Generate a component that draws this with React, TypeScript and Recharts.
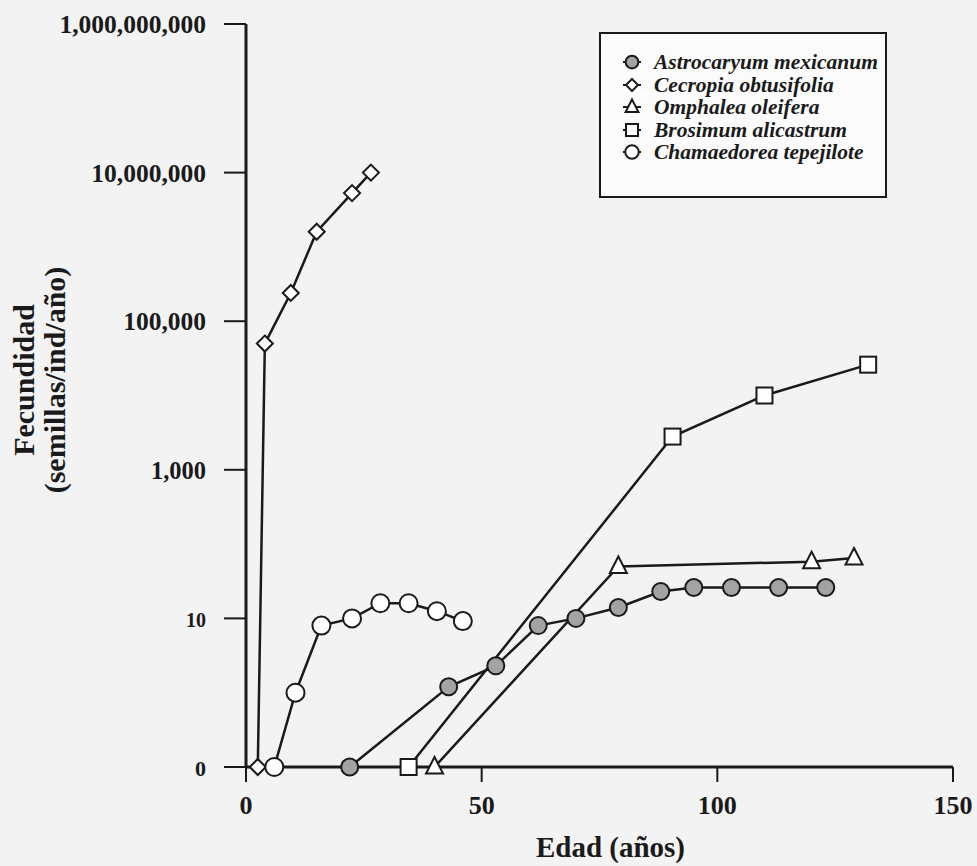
import React from 'react';
import { LineChart, Line, XAxis, YAxis } from 'recharts';

// edad (años) y fecundidad (semillas/ind/año)
const astrocaryumAge = [22, 43, 53, 62, 70, 79, 88, 95, 103, 113, 123];
const astrocaryumFec = [0, 1.2, 2.3, 8, 10, 14, 23, 26, 26, 26, 26];

const cecropiaAge = [2.5, 4, 9.5, 15, 22.5, 26.5];
const cecropiaFec = [0, 50000, 240000, 1600000, 5300000, 10000000];

const omphaleaAge = [40, 79, 120, 129];
const omphaleaFec = [0, 50, 58, 65];

const brosimumAge = [34.5, 90.5, 110, 132];
const brosimumFec = [0, 2800, 10000, 26000];

const chamaedoreaAge = [6, 10.5, 16, 22.5, 28.5, 34.5, 40.5, 46];
const chamaedoreaFec = [0, 1, 8, 10, 16, 16, 12.5, 9.2];

const yTickValues = [0, 10, 1000, 100000, 10000000, 1000000000];
const xTicks = [0, 50, 100, 150];

// el eje es logarítmico y el 0 se dibuja una década por debajo de 1
const toLog = (v: number) => (v <= 0 ? -1 : Math.log10(v));
const fromLog = (t: number) => (t < 0 ? 0 : Math.round(Math.pow(10, t)));

const build = (ages: number[], fec: number[]) =>
  ages.map((a, i) => ({ x: a, y: toLog(fec[i]) }));

const INK = '#1a1a1a';
const FONT = '"Liberation Serif", "DejaVu Serif", serif';

type ShapeKind = 'filled' | 'diamond' | 'triangle' | 'square' | 'circle';

const Marker = ({ kind, cx, cy, s = 1 }: { kind: ShapeKind; cx: number; cy: number; s?: number }) => {
  const sw = 2;
  switch (kind) {
    case 'filled':
      return <circle cx={cx} cy={cy} r={8.5 * s} fill="#a3a3a3" stroke={INK} strokeWidth={sw} />;
    case 'diamond': {
      const d = 8 * s;
      return (
        <polygon
          points={`${cx},${cy - d} ${cx + d},${cy} ${cx},${cy + d} ${cx - d},${cy}`}
          fill="#fff"
          stroke={INK}
          strokeWidth={sw}
        />
      );
    }
    case 'triangle':
      return (
        <polygon
          points={`${cx},${cy - 10 * s} ${cx + 8.5 * s},${cy + 6.5 * s} ${cx - 8.5 * s},${cy + 6.5 * s}`}
          fill="#fff"
          stroke={INK}
          strokeWidth={sw}
        />
      );
    case 'square':
      return (
        <rect x={cx - 8 * s} y={cy - 8 * s} width={16 * s} height={16 * s} fill="#fff" stroke={INK} strokeWidth={sw} />
      );
    default:
      return <circle cx={cx} cy={cy} r={9 * s} fill="#fff" stroke={INK} strokeWidth={sw} />;
  }
};

const series: { name: string; kind: ShapeKind; data: { x: number; y: number }[] }[] = [
  { name: 'Astrocaryum mexicanum', kind: 'filled', data: build(astrocaryumAge, astrocaryumFec) },
  { name: 'Cecropia obtusifolia', kind: 'diamond', data: build(cecropiaAge, cecropiaFec) },
  { name: 'Omphalea oleifera', kind: 'triangle', data: build(omphaleaAge, omphaleaFec) },
  { name: 'Brosimum alicastrum', kind: 'square', data: build(brosimumAge, brosimumFec) },
  { name: 'Chamaedorea tepejilote', kind: 'circle', data: build(chamaedoreaAge, chamaedoreaFec) },
];

const yTickFont: Record<string, number> = { '0': 22, '10': 20, '1,000': 24.5 };

const YTick = (props: any) => {
  const { x, y, payload } = props;
  const label = fromLog(payload.value).toLocaleString('en-US');
  return (
    <text
      x={x}
      y={y}
      dy={9}
      textAnchor="end"
      fontFamily={FONT}
      fontWeight="bold"
      fontSize={yTickFont[label] || 25.5}
      fill={INK}
    >
      {label}
    </text>
  );
};

const LegendBox = () => (
  <div
    style={{
      position: 'absolute',
      left: 599,
      top: 32,
      width: 288,
      height: 166,
      boxSizing: 'border-box',
      border: `2px solid ${INK}`,
      background: '#fbfbfb',
      padding: '17px 0 0 20px',
      fontFamily: FONT,
      fontStyle: 'italic',
      fontWeight: 'bold',
      fontSize: 21.5,
      color: INK,
      lineHeight: '22.5px',
    }}
  >
    {series.map((s) => (
      <div key={s.name} style={{ display: 'flex', alignItems: 'center', height: 22.5 }}>
        <svg width={22} height={22} style={{ marginRight: 11 }}>
          <line x1={2} y1={11} x2={20} y2={11} stroke={INK} strokeWidth={2} />
          <Marker kind={s.kind} cx={11} cy={11} s={0.75} />
        </svg>
        <span>{s.name}</span>
      </div>
    ))}
  </div>
);

const YLabel = () => (
  <g fontFamily={FONT} fontWeight="bold" fontSize={30} fill={INK}>
    <text transform="translate(34, 380) rotate(-90)" textAnchor="middle">
      Fecundidad
    </text>
    <text transform="translate(65, 380) rotate(-90)" textAnchor="middle">
      (semillas/ind/año)
    </text>
  </g>
);

const XLabel = (props: any) => {
  const vb = props.viewBox || { x: 246, width: 707 };
  return (
    <text
      x={vb.x + vb.width / 2 + 11}
      y={857}
      textAnchor="middle"
      fontFamily={FONT}
      fontWeight="bold"
      fontSize={29}
      fill={INK}
    >
      Edad (años)
    </text>
  );
};

export default function App() {
  return (
    <div style={{ position: 'absolute', left: 0, top: 0, width: 977, height: 866, background: '#f3f3f3' }}>
      <LineChart width={977} height={866} margin={{ top: 24, right: 24, bottom: 39, left: 0 }}>
        <XAxis
          type="number"
          dataKey="x"
          domain={[0, 150]}
          ticks={xTicks}
          allowDataOverflow
          tickSize={15}
          tickMargin={14}
          height={60}
          axisLine={{ stroke: INK, strokeWidth: 3 }}
          tickLine={{ stroke: INK, strokeWidth: 2 }}
          tick={{ fill: INK, fontFamily: FONT, fontWeight: 'bold', fontSize: 26 }}
          label={{ content: (p: any) => <XLabel {...p} /> }}
        />
        <YAxis
          type="number"
          dataKey="y"
          domain={[-1, 9]}
          ticks={yTickValues.map(toLog)}
          width={246}
          tickSize={22}
          tickMargin={18}
          axisLine={{ stroke: INK, strokeWidth: 3 }}
          tickLine={{ stroke: INK, strokeWidth: 2 }}
          tick={<YTick />}
          label={{ content: () => <YLabel /> }}
        />
        {series.map((s) => (
          <Line
            key={s.name}
            name={s.name}
            data={s.data}
            dataKey="y"
            type="linear"
            stroke={INK}
            strokeWidth={2.5}
            isAnimationActive={false}
            dot={(p: any) => <Marker key={`${s.name}-${p.index}`} kind={s.kind} cx={p.cx} cy={p.cy} />}
            activeDot={false}
          />
        ))}
      </LineChart>
      <LegendBox />
    </div>
  );
}
